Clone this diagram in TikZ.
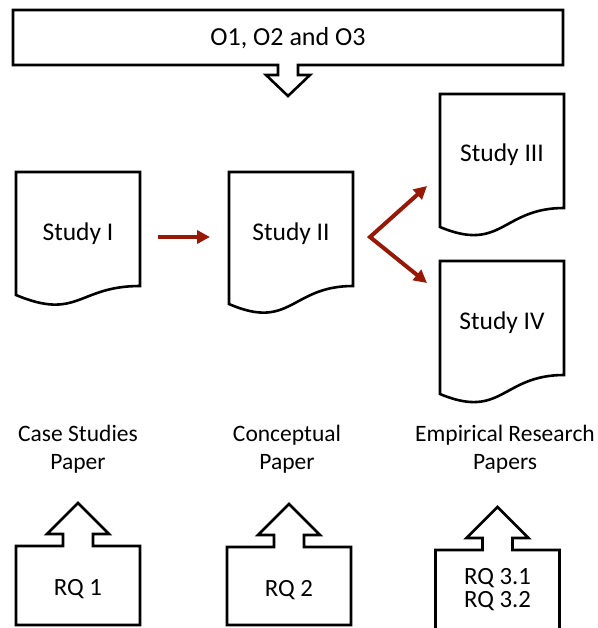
\documentclass[tikz,border=0pt]{standalone}
\usepackage{fontspec}
\setmainfont{Carlito}
\usetikzlibrary{arrows.meta}
\definecolor{darkred}{RGB}{152,24,8}
\newcommand\docshape[4]{% left, top, left drop, control depth
  \draw[outl] (#1,#2) -- ({#1+124},#2) -- ({#1+124},{#2+114})
    .. controls ({#1+62},{#2+114}) and ({#1+62},{#2+#4}) .. (#1,{#2+#3}) -- cycle;}
\newcommand\upcallout[5]{% centre x, box top, wing y, tip y, box bottom
  \draw[outl] ({#1-62},#2) -- ({#1-15},#2) -- ({#1-15},#3) -- ({#1-31},#3) -- (#1,#4)
    -- ({#1+31},#3) -- ({#1+15},#3) -- ({#1+15},#2) -- ({#1+62},#2) -- ({#1+62},#5)
    -- ({#1-62},#5) -- cycle;}
\begin{document}
\begin{tikzpicture}[x=1pt,y=-1pt,
  >={Triangle[length=13pt,width=13pt]},
  outl/.style={draw=black,line width=2.6pt,fill=white},
  redline/.style={draw=darkred,line width=4pt},
  titletext/.style={font=\fontsize{26}{31}\selectfont,anchor=base,inner sep=0pt},
  studytext/.style={font=\fontsize{25.5}{30}\selectfont,anchor=base,inner sep=0pt},
  labeltext/.style={font=\fontsize{23.5}{28}\selectfont,anchor=base,inner sep=0pt},
  rqtext/.style={font=\fontsize{24.8}{23}\selectfont,anchor=base,inner sep=0pt}]
\useasboundingbox (0,0) rectangle (597,628);
\clip (0,0) rectangle (597,628);
\fill[white] (0,0) rectangle (597,628);

% top callout
\draw[outl] (13,10) -- (563,10) -- (563,65) -- (298,65) -- (298,75) -- (310,75)
  -- (288,96) -- (266,75) -- (278,75) -- (278,65) -- (13,65) -- cycle;
\node[titletext] (title) at (288,46) {O1, O2 and O3};

% documents
\docshape{16}{172}{123}{149}
\docshape{229}{172}{132}{159}
\docshape{440}{94}{133}{159}
\docshape{440}{261}{133}{159}
\node[studytext] (s1) at (78,240.5) {Study I};
\node[studytext] (s2) at (291,240.5) {Study II};
\node[studytext] (s3) at (502,162) {Study III};
\node[studytext] (s4) at (502,329.5) {Study IV};

% red arrows
\coordinate (a1) at (158,237);
\coordinate (a2) at (210,237);
\coordinate (fork) at (370,237);
\coordinate (t3) at (427,186);
\coordinate (t4) at (427,283);
\draw[redline,->] (a1) -- (a2);
\draw[redline,<->] (t3) -- (fork) -- (t4);

% paper labels
\node[labeltext] (l1a) at (78,441) {Case Studies};
\node[labeltext] (l1b) at (78,469) {Paper};
\node[labeltext] (l2a) at (287,441) {Conceptual};
\node[labeltext] (l2b) at (287,469) {Paper};
\node[labeltext] (l3a) at (505,441) {Empirical Research};
\node[labeltext] (l3b) at (505,469) {Papers};

% research question callouts
\upcallout{78}{546}{534}{503}{625}
\upcallout{289}{547}{535}{504}{625}
\upcallout{497.5}{550}{538}{507}{645}
\node[rqtext] (r1) at (78,595) {RQ 1};
\node[rqtext] (r2) at (289,596) {RQ 2};
\node[rqtext] (r31) at (497.5,584) {RQ 3.1};
\node[rqtext] (r32) at (497.5,607) {RQ 3.2};
\end{tikzpicture}
\end{document}
